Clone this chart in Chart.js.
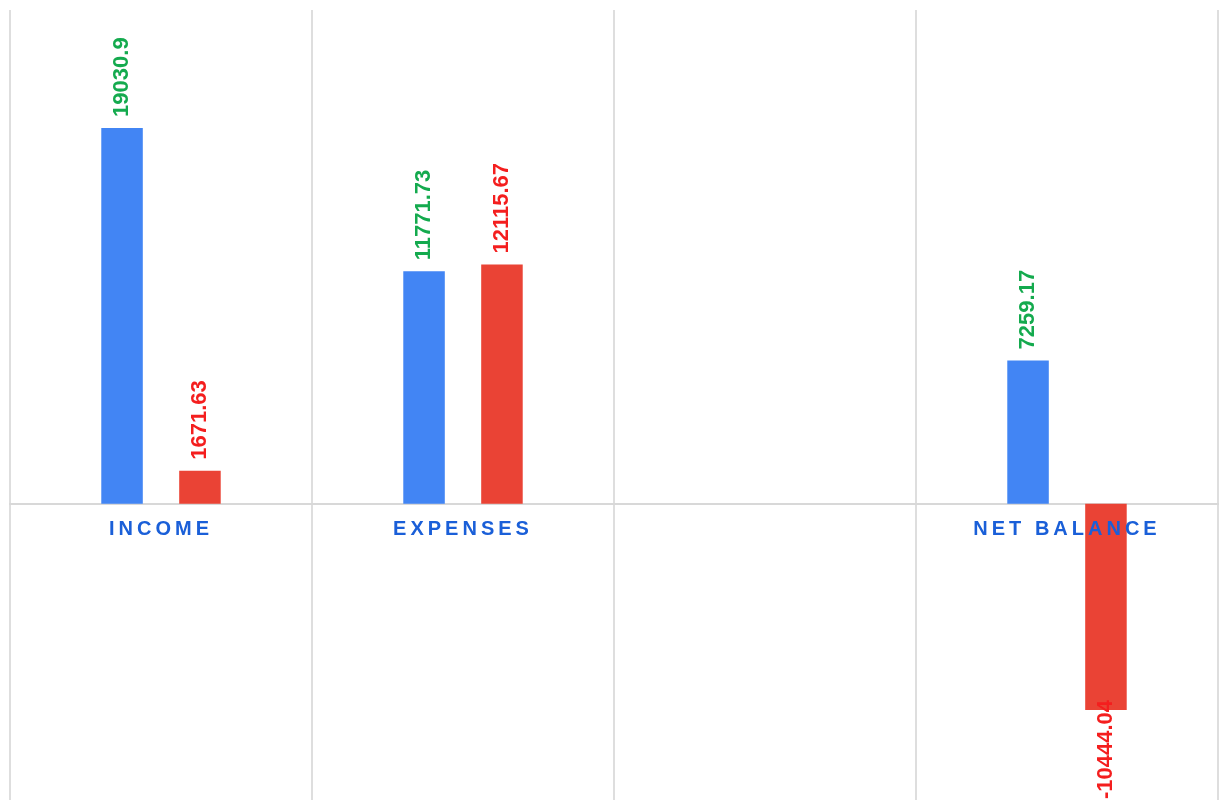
<!DOCTYPE html>
<html>
<head>
<meta charset="utf-8">
<script src="https://cdn.jsdelivr.net/npm/chart.js@4.4.1/dist/chart.umd.min.js"></script>
<style>
  html, body { margin: 0; padding: 0; background: #ffffff; }
  #wrap { width: 1225px; height: 804px; position: relative; }
</style>
</head>
<body>
<div id="wrap"><canvas id="summaryChart"></canvas></div>
<script>
/* --------------- Data --------------------- */
const categories = ["INCOME", "EXPENSES", "", "NET BALANCE"];
const series1Values = [19030.9, 11771.73, null, 7259.17];
const series2Values = [1671.63, 12115.67, null, -10444.04];
const yMin = -15000;
const yMax = 25000;

/* --------------- Colors --------------------- */
const barColors = ["#4285F4", "#EA4335"];
const labelColors = ["#14AA4E", "#F41E1E"];

/* --------------- Value labels on the bars (rotated) --------------------- */
const valueLabels = {
  id: "valueLabels",
  afterDatasetsDraw(chart) {
    const ctx = chart.ctx;
    const area = chart.chartArea;
    ctx.save();
    ctx.letterSpacing = "0px";
    ctx.font = "bold 22px 'Liberation Sans', Arial, sans-serif";
    ctx.textAlign = "left";
    ctx.textBaseline = "middle";
    chart.data.datasets.forEach((ds, di) => {
      const meta = chart.getDatasetMeta(di);
      meta.data.forEach((bar, i) => {
        const v = ds.data[i];
        if (v === null || v === undefined) return;
        const txt = String(v);
        const len = ctx.measureText(txt).width;
        let start;
        if (v >= 0) {
          start = bar.y - 11;
        } else {
          // negative: below the bar, but kept inside the chart area
          start = bar.y + 11 + len;
          if (start > area.bottom - 1) start = area.bottom - 1;
        }
        ctx.save();
        ctx.translate(bar.x, start);
        ctx.rotate(-Math.PI / 2);
        ctx.fillStyle = labelColors[di];
        ctx.fillText(txt, 0, 0);
        ctx.restore();
      });
    });
    ctx.restore();
  }
};

/* --------------- Wide letter spacing for the category names --------------------- */
const spacedTicks = {
  id: "spacedTicks",
  beforeDraw(chart) {
    chart.ctx.letterSpacing = "4px";
  }
};

/* --------------- Chart --------------------- */
const summaryChart = new Chart(document.getElementById("summaryChart"), {
  type: "bar",
  plugins: [spacedTicks, valueLabels],
  data: {
    labels: categories,
    datasets: [
      {
        label: "Series 1",
        data: series1Values,
        backgroundColor: barColors[0],
        categoryPercentage: 0.516,
        barPercentage: 0.533,
      },
      {
        label: "Series 2",
        data: series2Values,
        backgroundColor: barColors[1],
        categoryPercentage: 0.516,
        barPercentage: 0.533,
      },
    ],
  },
  options: {
    responsive: true,
    maintainAspectRatio: false,
    animation: false,
    layout: { padding: { left: 10, right: 7, top: 10, bottom: 4 } },
    plugins: {
      legend: { display: false },
      tooltip: { enabled: false },
    },
    scales: {
      x: {
        position: { y: 0 },
        offset: true,
        grid: {
          offset: true,
          drawTicks: false,
          color: "#dedede",
          lineWidth: 2,
        },
        border: { display: true, color: "#d8d8d8", width: 2 },
        ticks: {
          z: 1, // category names sit on top of the bars
          autoSkip: false,
          maxRotation: 0,
          padding: 14,
          color: "#1A5FD8",
          font: { family: "'Liberation Sans', Arial, sans-serif", size: 20, weight: "bold" },
        },
      },
      y: {
        display: false,
        min: yMin,
        max: yMax,
      },
    },
  },
});
</script>
</body>
</html>
